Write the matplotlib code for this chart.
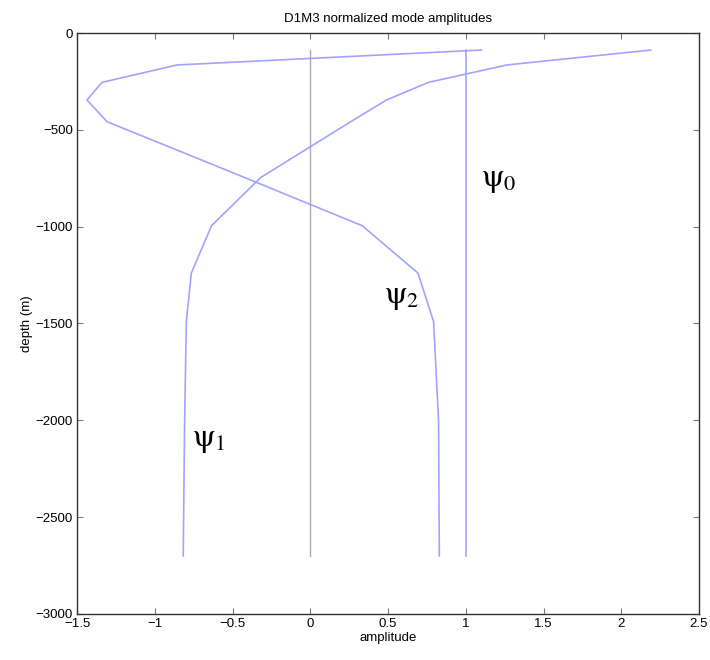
import numpy as np
import matplotlib
matplotlib.use("Agg")
from matplotlib import pyplot as plt

# depth levels (m) and mode amplitudes
depth = [-88, -165, -255, -346, -458, -747, -995, -1240, -1490, -2000, -2700]
psi0 = [1.0, 1.0, 1.0, 1.0, 1.0, 1.0, 1.0, 1.0, 1.0, 1.0, 1.0]
psi1 = [2.19, 1.265, 0.76, 0.49, 0.26, -0.32, -0.635, -0.765, -0.797, -0.808, -0.817]
psi2 = [1.10, -0.857, -1.34, -1.436, -1.307, -0.42, 0.334, 0.693, 0.793, 0.825, 0.83]
zero_line = [0.0, 0.0]
zero_depth = [-88, -2700]

labels = [r'$\mathrm{\psi}_0$', r'$\mathrm{\psi}_1$', r'$\mathrm{\psi}_2$']
label_x = [1.21, -0.65, 0.59]
label_y = [-759, -2101, -1363]

plt.rcParams['font.family'] = ['Liberation Sans', 'DejaVu Sans']
plt.rcParams['mathtext.fontset'] = 'stix'

fig = plt.figure(figsize=(7.1, 6.6), dpi=100)
ax = fig.add_axes([0.1085, 0.0697, 0.876, 0.8803])

line_color = '#a3a3ff'
ax.plot(zero_line, zero_depth, color='#aaaaaa', lw=1.0)
ax.plot(psi0, depth, color=line_color, lw=1.2)
ax.plot(psi1, depth, color=line_color, lw=1.2)
ax.plot(psi2, depth, color=line_color, lw=1.2)

for lab, x, y in zip(labels, label_x, label_y):
    ax.text(x, y, lab, fontsize=23, ha='center', va='center', color='black')

ax.set_xlim(-1.5, 2.5)
ax.set_ylim(-3000, 0)
ax.set_xticks(np.arange(-1.5, 2.51, 0.5))
ax.set_xticklabels(['\u22121.5', '\u22121', '\u22120.5', '0', '0.5', '1', '1.5', '2', '2.5'])
ax.set_yticks(np.arange(-3000, 1, 500))
ax.set_yticklabels(['\u22123000', '\u22122500', '\u22122000', '\u22121500', '\u22121000', '\u2212500', '0'])
ax.tick_params(direction='in', length=4, width=0.8, color='#777777',
               top=True, right=True, labelsize=9.5, pad=3)
for sp in ax.spines.values():
    sp.set_color('#333333')
    sp.set_linewidth(1.0)

ax.set_xlabel('amplitude', fontsize=9.5, labelpad=1)
ax.set_ylabel('depth (m)', fontsize=9.5, labelpad=2)
ax.set_title('D1M3 normalized mode amplitudes', fontsize=9.5, pad=8)

fig.savefig('out.png', dpi=100)
